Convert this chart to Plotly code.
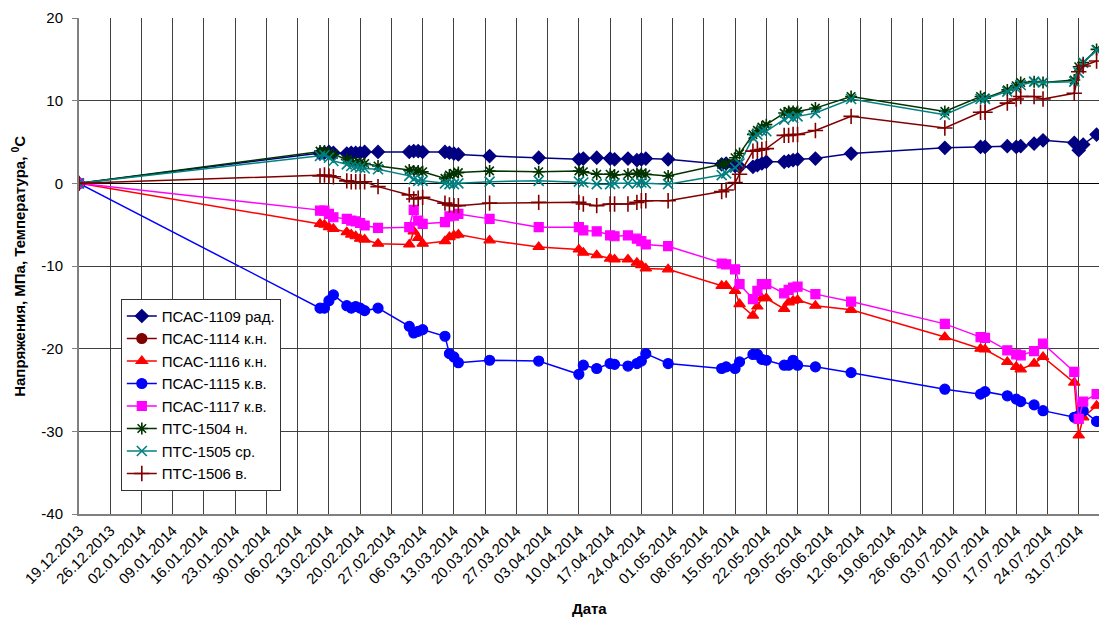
import plotly.graph_objects as go

dates = [
    "2013-12-19",
    "2014-02-11", "2014-02-12", "2014-02-13", "2014-02-14",
    "2014-02-17", "2014-02-18", "2014-02-19", "2014-02-20", "2014-02-21",
    "2014-02-24",
    "2014-03-03", "2014-03-04", "2014-03-05", "2014-03-06",
    "2014-03-11", "2014-03-12", "2014-03-13", "2014-03-14",
    "2014-03-21",
    "2014-04-01",
    "2014-04-10", "2014-04-11",
    "2014-04-14",
    "2014-04-17", "2014-04-18",
    "2014-04-21",
    "2014-04-23", "2014-04-24", "2014-04-25",
    "2014-04-30",
    "2014-05-12", "2014-05-13",
    "2014-05-15", "2014-05-16",
    "2014-05-19", "2014-05-20", "2014-05-21", "2014-05-22",
    "2014-05-26", "2014-05-27", "2014-05-28", "2014-05-29",
    "2014-06-02",
    "2014-06-10",
    "2014-07-01",
    "2014-07-09", "2014-07-10",
    "2014-07-15",
    "2014-07-17", "2014-07-18",
    "2014-07-21",
    "2014-07-23",
    "2014-07-30",
    "2014-07-31",
    "2014-08-01",
    "2014-08-04",
]

psas_1109 = [0,
    3.6, 3.7, 3.8, 3.7,
    3.6, 3.7, 3.7, 3.7, 3.8,
    3.8,
    3.8, 3.9, 3.9, 3.8,
    3.8, 3.7, 3.6, 3.5,
    3.3,
    3.1,
    2.9, 3.0,
    3.1,
    3.0, 2.9,
    3.0,
    2.8, 2.9, 3.0,
    2.9,
    2.3, 2.4,
    2.1, 2.0,
    2.0, 2.2, 2.4, 2.6,
    2.6, 2.7, 2.8, 2.9,
    3.0,
    3.6,
    4.3,
    4.4, 4.4,
    4.5,
    4.4, 4.5,
    4.8,
    5.2,
    4.9,
    4.0,
    4.7,
    5.9]

psas_1114 = []  # series listed in legend, no visible points

psas_1116 = [0,
    -4.9, -5.0, -5.3, -5.5,
    -5.9, -6.2, -6.4, -6.7, -6.8,
    -7.3,
    -7.4, -5.8, -6.6, -7.3,
    -7.0, -6.5, -6.3, -6.2,
    -6.9,
    -7.7,
    -8.0, -8.4,
    -8.7,
    -9.1, -9.2,
    -9.2,
    -9.6, -9.9, -10.3,
    -10.4,
    -12.4, -12.4,
    -13.0, -14.6,
    -16.0, -14.9, -13.9, -13.9,
    -15.2, -14.4, -14.2, -14.1,
    -14.8,
    -15.3,
    -18.6,
    -20.0, -20.1,
    -21.6,
    -22.2, -22.5,
    -21.8,
    -21.0,
    -24.1,
    -30.5,
    -28.3,
    -26.9]

psas_1115 = [0,
    -15.1, -15.1, -14.2, -13.5,
    -14.8, -15.1, -14.9, -15.1, -15.4,
    -15.1,
    -17.3, -18.1, -17.9, -17.7,
    -18.5, -20.6, -21.0, -21.7,
    -21.4,
    -21.5,
    -23.1, -22.0,
    -22.4,
    -21.8, -21.9,
    -22.1,
    -21.8, -21.5, -20.6,
    -21.8,
    -22.4, -22.2,
    -22.4, -21.6,
    -20.7, -20.7, -21.3, -21.4,
    -22.0, -22.0, -21.4, -22.0,
    -22.2,
    -22.9,
    -24.9,
    -25.5, -25.2,
    -25.7,
    -26.1, -26.4,
    -26.8,
    -27.5,
    -28.3,
    -28.1,
    -27.5,
    -28.8]

psas_1117 = [0,
    -3.3, -3.3, -3.7, -4.1,
    -4.3, -4.5, -4.6, -4.8, -5.1,
    -5.4,
    -5.3, -3.2, -4.5, -4.9,
    -4.7, -4.0, -3.9, -3.7,
    -4.3,
    -5.3,
    -5.3, -5.7,
    -5.8,
    -6.3, -6.4,
    -6.3,
    -6.7, -7.0, -7.4,
    -7.6,
    -9.7, -9.8,
    -10.4, -12.2,
    -14.0, -13.0, -12.2, -12.2,
    -13.3, -12.9, -12.6, -12.5,
    -13.4,
    -14.3,
    -17.0,
    -18.6, -18.7,
    -20.2,
    -20.7, -20.8,
    -20.3,
    -19.4,
    -22.8,
    -28.5,
    -26.4,
    -25.5]

pts_1504 = [0,
    3.9, 3.9, 3.7, 3.5,
    2.9, 2.7, 2.5, 2.5, 2.4,
    2.1,
    1.6, 1.5, 1.5, 1.4,
    0.6, 1.0, 1.2, 1.3,
    1.5,
    1.4,
    1.5, 1.4,
    1.1,
    1.1, 1.0,
    1.1,
    1.2, 1.2, 1.1,
    0.9,
    2.3, 2.4,
    3.1, 3.6,
    5.9, 6.4, 6.8, 7.1,
    8.5, 8.7, 8.7, 8.7,
    9.1,
    10.5,
    8.7,
    10.5, 10.3,
    11.3,
    11.8, 12.2,
    12.3,
    12.2,
    12.5,
    14.1,
    14.6,
    16.2]

pts_1505 = [0,
    3.3, 3.4, 3.1, 2.7,
    2.3, 2.1, 2.0, 1.9, 1.8,
    1.7,
    0.9, 0.5, 0.3, 0.3,
    0.0, -0.1, -0.1, 0.0,
    0.2,
    0.3,
    0.2, 0.1,
    -0.1,
    -0.1, 0.0,
    0.0,
    0.0, 0.1, 0.0,
    -0.1,
    1.0, 1.2,
    1.9, 2.4,
    5.5, 5.9, 6.3, 6.3,
    7.7, 8.1, 7.9, 8.1,
    8.5,
    10.2,
    8.3,
    10.2, 10.2,
    11.1,
    11.5, 11.9,
    12.3,
    12.2,
    12.3,
    13.4,
    14.6,
    16.1]

pts_1506 = [0,
    0.9, 1.0, 0.9, 0.8,
    0.3, 0.2, 0.2, 0.2, 0.2,
    -0.4,
    -1.4, -1.9, -1.8, -1.7,
    -2.4, -2.6, -2.7, -2.7,
    -2.4,
    -2.3,
    -2.3, -2.5,
    -2.7,
    -2.5, -2.5,
    -2.5,
    -2.3, -2.1, -2.1,
    -2.1,
    -1.0, -0.8,
    0.1, 1.1,
    3.9, 4.0, 4.1, 4.2,
    5.8, 5.8, 5.9, 5.9,
    6.4,
    8.1,
    6.7,
    8.6, 8.6,
    9.7,
    10.2, 10.5,
    10.5,
    10.2,
    10.9,
    13.5,
    14.2,
    14.8]

tick_dates = [
    "2013-12-19", "2013-12-26", "2014-01-02", "2014-01-09", "2014-01-16",
    "2014-01-23", "2014-01-30", "2014-02-06", "2014-02-13", "2014-02-20",
    "2014-02-27", "2014-03-06", "2014-03-13", "2014-03-20", "2014-03-27",
    "2014-04-03", "2014-04-10", "2014-04-17", "2014-04-24", "2014-05-01",
    "2014-05-08", "2014-05-15", "2014-05-22", "2014-05-29", "2014-06-05",
    "2014-06-12", "2014-06-19", "2014-06-26", "2014-07-03", "2014-07-10",
    "2014-07-17", "2014-07-24", "2014-07-31",
]
tick_labels = [
    "19.12.2013", "26.12.2013", "02.01.2014", "09.01.2014", "16.01.2014",
    "23.01.2014", "30.01.2014", "06.02.2014", "13.02.2014", "20.02.2014",
    "27.02.2014", "06.03.2014", "13.03.2014", "20.03.2014", "27.03.2014",
    "03.04.2014", "10.04.2014", "17.04.2014", "24.04.2014", "01.05.2014",
    "08.05.2014", "15.05.2014", "22.05.2014", "29.05.2014", "05.06.2014",
    "12.06.2014", "19.06.2014", "26.06.2014", "03.07.2014", "10.07.2014",
    "17.07.2014", "24.07.2014", "31.07.2014",
]

y_tick_vals = [-40, -30, -20, -10, 0, 10, 20]
y_tick_text = ["-40", "-30", "-20", "-10", "0", "10", "20"]

series = [
    ("ПСАС-1109 рад.", psas_1109, "#000080", "diamond", 10, 1.2),
    ("ПСАС-1114 к.н.", psas_1114, "#800000", "circle", 10, 1.2),
    ("ПСАС-1116 к.н.", psas_1116, "#FF0000", "triangle-up", 10, 1.2),
    ("ПСАС-1115 к.в.", psas_1115, "#0000FF", "circle", 10, 1.2),
    ("ПСАС-1117 к.в.", psas_1117, "#FF00FF", "square", 9, 1.2),
    ("ПТС-1504 н.", pts_1504, "#003300", "asterisk-open", 10, 1.6),
    ("ПТС-1505 ср.", pts_1505, "#008080", "x-thin-open", 10, 1.6),
    ("ПТС-1506 в.", pts_1506, "#800000", "cross-thin-open", 11, 1.6),
]

fig = go.Figure()
for i, (name, vals, color, sym, size, mlw) in enumerate(series):
    if vals:
        xs, ys = dates, vals
    else:
        xs, ys = [None], [None]
    fig.add_trace(go.Scatter(
        x=xs, y=ys, name=name, mode="lines+markers",
        line=dict(color=color, width=1.5),
        marker=dict(symbol=sym, size=size, color=color,
                    line=dict(color=color, width=mlw)),
    ))

font_family = "Liberation Sans, Arial, sans-serif"

fig.update_layout(
    width=1099, height=619,
    margin=dict(l=79, r=0, t=18, b=105),
    paper_bgcolor="white", plot_bgcolor="white",
    font=dict(family=font_family, size=15, color="black"),
    showlegend=True,
    legend=dict(
        x=0.041, y=0.434, xanchor="left", yanchor="top",
        bgcolor="white", bordercolor="#333333", borderwidth=1,
        font=dict(size=15, family=font_family),
        itemwidth=30,
    ),
    xaxis=dict(
        type="date",
        range=["2013-12-19", "2014-08-04 13:00"],
        tickvals=tick_dates, ticktext=tick_labels,
        tickangle=-45,
        tickfont=dict(size=15),
        showgrid=True, gridcolor="#404040", gridwidth=1,
        showline=True, linecolor="#808080", linewidth=2,
        ticks="", zeroline=False,
    ),
    yaxis=dict(
        range=[-40, 20],
        tickvals=y_tick_vals, ticktext=y_tick_text,
        tickfont=dict(size=15),
        showgrid=True, gridcolor="#404040", gridwidth=1,
        showline=True, linecolor="#808080", linewidth=2,
        ticks="outside", ticklen=5, tickcolor="#808080",
        ticklabelstandoff=6,
        zeroline=True, zerolinecolor="#000000", zerolinewidth=1,
        mirror=False,
    ),
    annotations=[
        dict(text="<b>Напряжения, МПа, Температура, <sup>0</sup>С</b>",
             xref="paper", yref="paper", x=-0.06, y=0.5,
             xanchor="center", yanchor="middle", textangle=-90,
             showarrow=False, font=dict(size=15, family=font_family)),
        dict(text="<b>Дата</b>",
             xref="paper", yref="paper", x=0.5, y=-0.19,
             xanchor="center", yanchor="middle",
             showarrow=False, font=dict(size=15, family=font_family)),
    ],
)

fig.write_html("out.html")
